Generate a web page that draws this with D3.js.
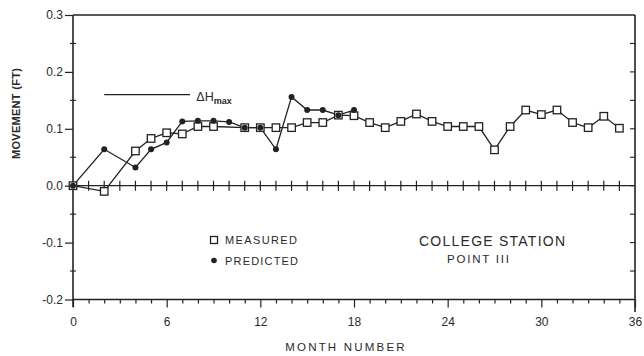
<!DOCTYPE html>
<html>
<head>
<meta charset="utf-8">
<script src="https://cdn.jsdelivr.net/npm/d3@7"></script>
<style>
  html, body { margin: 0; padding: 0; background: #fff; }
  svg { display: block; }
  text { font-family: "Liberation Sans", Arial, sans-serif; fill: #2a2a2a; }
</style>
</head>
<body>
<svg id="chart" width="644" height="356"></svg>
<script>
// Measured movement (squares), by month
const measuredMonths = [0, 2, 4, 5, 6, 7, 8, 9, 11, 12, 13, 14, 15, 16, 17, 18, 19, 20, 21, 22, 23, 24, 25, 26, 27, 28, 29, 30, 31, 32, 33, 34, 35];
const measuredValues = [0.0, -0.01, 0.061, 0.083, 0.093, 0.091, 0.104, 0.104, 0.102, 0.102, 0.102, 0.102, 0.111, 0.111, 0.124, 0.123, 0.111, 0.102, 0.113, 0.126, 0.113, 0.104, 0.104, 0.104, 0.063, 0.104, 0.133, 0.125, 0.133, 0.111, 0.102, 0.122, 0.101];

// Predicted movement (dots), by month
const predictedMonths = [0, 2, 4, 5, 6, 7, 8, 9, 10, 11, 12, 13, 14, 15, 16, 17, 18];
const predictedValues = [0.0, 0.064, 0.032, 0.064, 0.076, 0.113, 0.114, 0.114, 0.112, 0.102, 0.102, 0.064, 0.156, 0.133, 0.133, 0.124, 0.133];

// Maximum heave reference level
const deltaHmax = 0.16;

// Axis ticks
const xTicks = [0, 6, 12, 18, 24, 30, 36];
const yTicks = [-0.2, -0.1, 0.0, 0.1, 0.2, 0.3];
const yMinorTicks = [-0.15, -0.05, 0.05, 0.15, 0.25];

const ink = "#222";
const svg = d3.select("#chart");

const x = d3.scaleLinear().domain([0, 36]).range([73, 635]);
const y = d3.scaleLinear().domain([-0.2, 0.3]).range([299.5, 15]);

const fmt = d => (d < 0 ? "-" : "") + Math.abs(d).toFixed(1);

// Frame: top border, left and right axes
svg.append("line").attr("x1", x(0)).attr("x2", x(36)).attr("y1", y(0.3)).attr("y2", y(0.3))
  .attr("stroke", ink).attr("stroke-width", 1.3);
svg.append("line").attr("x1", x(0)).attr("x2", x(0)).attr("y1", y(0.3)).attr("y2", 307)
  .attr("stroke", ink).attr("stroke-width", 1.6);
svg.append("line").attr("x1", x(36)).attr("x2", x(36)).attr("y1", y(0.3)).attr("y2", 312)
  .attr("stroke", ink).attr("stroke-width", 1.6);

// Left axis: major ticks with labels
const yAxis = svg.append("g").attr("transform", `translate(${x(0)},0)`)
  .call(d3.axisLeft(y).tickValues(yTicks).tickSize(8).tickPadding(2).tickFormat(fmt));
yAxis.select(".domain").remove();
yAxis.selectAll("line").attr("stroke", ink).attr("stroke-width", 1.2);
yAxis.selectAll("text").style("font-size", "12px").attr("fill", "#2a2a2a");

// Left axis: minor crossing ticks
svg.append("g").selectAll("line").data(yMinorTicks).join("line")
  .attr("x1", x(0) - 3).attr("x2", x(0) + 3)
  .attr("y1", d => y(d)).attr("y2", d => y(d))
  .attr("stroke", ink).attr("stroke-width", 1.1);

// Right axis: inward ticks every 0.05
const rightTicks = d3.range(-0.15, 0.3, 0.05).map(v => +v.toFixed(2));
svg.append("g").selectAll("line").data(rightTicks).join("line")
  .attr("x1", x(36) - 5).attr("x2", x(36))
  .attr("y1", d => y(d)).attr("y2", d => y(d))
  .attr("stroke", ink).attr("stroke-width", 1.1);

// Bottom axis: major ticks with labels
const xAxis = svg.append("g").attr("transform", `translate(0,${y(-0.2)})`)
  .call(d3.axisBottom(x).tickValues(xTicks).tickSize(8).tickPadding(10).tickFormat(d3.format("d")));
xAxis.select(".domain").attr("stroke", ink).attr("stroke-width", 1.3).attr("d", `M${x(0)},0H${x(36)}`);
xAxis.selectAll("line").attr("stroke", ink).attr("stroke-width", 1.2);
xAxis.selectAll("text").style("font-size", "12px").attr("fill", "#2a2a2a");

// Bottom axis: monthly minor ticks
const xMinor = svg.append("g").attr("transform", `translate(0,${y(-0.2)})`)
  .call(d3.axisBottom(x).tickValues(d3.range(1, 36).filter(m => m % 6 !== 0)).tickSize(4).tickFormat(""));
xMinor.select(".domain").remove();
xMinor.selectAll("line").attr("stroke", ink).attr("stroke-width", 1.2);

// Zero line with monthly crossing ticks
svg.append("line").attr("x1", x(0)).attr("x2", x(36)).attr("y1", y(0)).attr("y2", y(0))
  .attr("stroke", ink).attr("stroke-width", 1.2);
svg.append("g").selectAll("line").data(d3.range(1, 36)).join("line")
  .attr("x1", d => x(d)).attr("x2", d => x(d))
  .attr("y1", y(0) - 5).attr("y2", y(0) + 5)
  .attr("stroke", ink).attr("stroke-width", 1.2);

// Axis titles
svg.append("text")
  .attr("transform", `translate(20,${y(0.127)}) rotate(-90)`)
  .attr("text-anchor", "middle")
  .style("font-size", "11px").style("font-weight", "bold")
  .style("letter-spacing", "0.3px")
  .text("MOVEMENT  (FT)");

svg.append("text")
  .attr("x", 346).attr("y", 351)
  .attr("text-anchor", "middle")
  .style("font-size", "11.5px")
  .style("letter-spacing", "2.2px")
  .text("MONTH  NUMBER");

// Maximum heave reference line
svg.append("line")
  .attr("x1", x(2)).attr("x2", x(7.5))
  .attr("y1", y(deltaHmax)).attr("y2", y(deltaHmax))
  .attr("stroke", ink).attr("stroke-width", 1.2);
const dh = svg.append("text").attr("x", x(7.9)).attr("y", y(deltaHmax) + 6)
  .style("font-size", "12.5px");
dh.append("tspan").text("\u0394H");
dh.append("tspan").attr("dy", 3).style("font-size", "9px").style("font-weight", "bold").text("max");

// Series
const measured = measuredMonths.map((m, i) => ({ m, v: measuredValues[i] }));
const predicted = predictedMonths.map((m, i) => ({ m, v: predictedValues[i] }));
const line = d3.line().x(d => x(d.m)).y(d => y(d.v));

svg.append("path").datum(predicted).attr("d", line)
  .attr("fill", "none").attr("stroke", ink).attr("stroke-width", 1.3);
svg.append("path").datum(measured).attr("d", line)
  .attr("fill", "none").attr("stroke", ink).attr("stroke-width", 1.3);

const sq = 7.5;
svg.append("g").selectAll("rect").data(measured).join("rect")
  .attr("x", d => x(d.m) - sq / 2).attr("y", d => y(d.v) - sq / 2)
  .attr("width", sq).attr("height", sq)
  .attr("fill", "#fff").attr("stroke", ink).attr("stroke-width", 1.3);

svg.append("g").selectAll("circle").data(predicted).join("circle")
  .attr("cx", d => x(d.m)).attr("cy", d => y(d.v)).attr("r", 3)
  .attr("fill", ink);

// Legend
svg.append("rect").attr("x", 210.5).attr("y", 236.5).attr("width", 7).attr("height", 7)
  .attr("fill", "#fff").attr("stroke", ink).attr("stroke-width", 1.3);
svg.append("text").attr("x", 225).attr("y", 244).attr("textLength", 72).attr("lengthAdjust", "spacing")
  .style("font-size", "11px").text("MEASURED");
svg.append("circle").attr("cx", 214).attr("cy", 260.5).attr("r", 2.8).attr("fill", ink);
svg.append("text").attr("x", 225).attr("y", 264.5).attr("textLength", 73).attr("lengthAdjust", "spacing")
  .style("font-size", "11px").text("PREDICTED");

// Site annotation
svg.append("text").attr("x", 419).attr("y", 245.5).attr("textLength", 146).attr("lengthAdjust", "spacing")
  .style("font-size", "14px").text("COLLEGE STATION");
svg.append("text").attr("x", 447).attr("y", 262.5).attr("textLength", 62).attr("lengthAdjust", "spacing")
  .style("font-size", "11.5px").text("POINT III");
</script>
</body>
</html>
